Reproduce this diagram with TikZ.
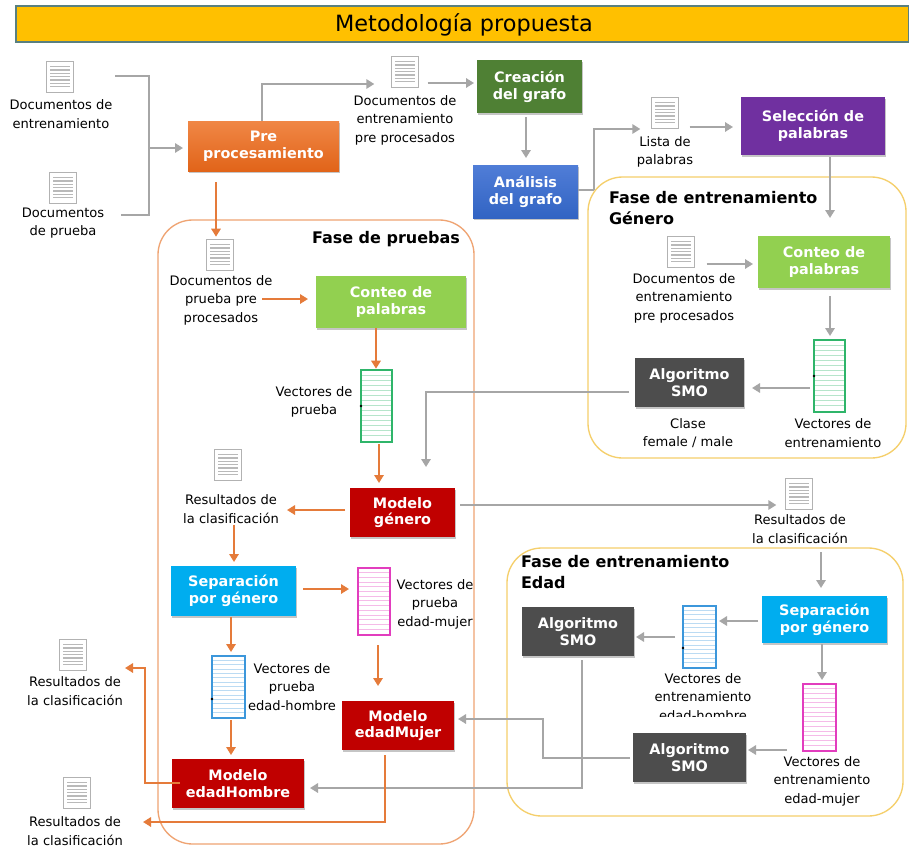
\documentclass[tikz,border=0pt]{standalone}
\usepackage{fontspec}
\setmainfont{DejaVu Sans}
\usetikzlibrary{arrows.meta,calc,shadows}
\definecolor{garrow}{HTML}{A6A6A6}
\definecolor{oarrow}{HTML}{E57B3A}
\definecolor{ttlbar}{HTML}{FFC000}
\definecolor{ybord}{HTML}{F5CF6B}
\definecolor{obord}{HTML}{EFA473}
\definecolor{smo}{HTML}{4D4D4D}
\definecolor{redm}{HTML}{C00000}
\definecolor{cyanb}{HTML}{00ADEF}
\definecolor{greenb}{HTML}{92D050}
\definecolor{darkg}{HTML}{4F8034}
\definecolor{purp}{HTML}{7030A0}
\definecolor{vgreen}{HTML}{2FB56A}
\definecolor{vblue}{HTML}{3C97DB}
\definecolor{vmag}{HTML}{E23DBE}
\definecolor{preT}{HTML}{F08746}
\definecolor{preB}{HTML}{E16419}
\definecolor{anaT}{HTML}{507DD7}
\definecolor{anaB}{HTML}{3264C3}
\tikzset{
  x=0.75pt,y=-0.75pt,
  garr/.style={draw=garrow,line width=1.6pt,-{Triangle[length=6pt,width=7pt]}},
  gline/.style={draw=garrow,line width=1.6pt},
  oarr/.style={draw=oarrow,line width=1.6pt,-{Triangle[length=6pt,width=7pt]}},
  boxbase/.style={inner sep=0pt,outer sep=0pt,align=center,text=white,
    font=\fontsize{10.8}{12.6}\selectfont\bfseries,
    drop shadow={opacity=.45,shadow xshift=1pt,shadow yshift=-1.5pt}},
  prebox/.style={boxbase,top color=preT,bottom color=preB,text=white},
  bluebox/.style={boxbase,top color=anaT,bottom color=anaB,text=white},
  dgbox/.style={boxbase,fill=darkg},
  purpbox/.style={boxbase,fill=purp},
  lgbox/.style={boxbase,fill=greenb},
  smobox/.style={boxbase,fill=smo},
  redbox/.style={boxbase,fill=redm},
  cybox/.style={boxbase,fill=cyanb},
  phase/.style={inner sep=0pt,outer sep=0pt,rounded corners=26pt,line width=1pt,fill=white},
  txt/.style={inner sep=0pt,outer sep=0pt,align=center,font=\fontsize{9.8}{13.9}\selectfont},
  ttl/.style={inner sep=0pt,outer sep=0pt,align=left,font=\fontsize{12}{16.1}\selectfont\bfseries},
  docicon/.style={draw=gray!60,line width=1.2pt,fill=white,minimum width=20.5pt,minimum height=23pt,
    inner sep=0pt,outer sep=0pt,
    path picture={
      \foreach \f in {.16,.27,.38,.49,.60,.71,.82}{
        \draw[gray!55,line width=1pt]
          ($(path picture bounding box.north west)!\f!(path picture bounding box.south west)+(2.8pt,0)$) --
          ($(path picture bounding box.north east)!\f!(path picture bounding box.south east)+(-2.8pt,0)$);}}},
  vecbase/.style={line width=1.6pt,fill=white,inner sep=0pt,outer sep=0pt,
    path picture={
      \foreach \f in {.07,.14,.21,.28,.35,.42,.49,.56,.63,.70,.77,.84,.91}{
        \draw[#1!35,line width=.6pt]
          ($(path picture bounding box.north west)!\f!(path picture bounding box.south west)$) --
          ($(path picture bounding box.north east)!\f!(path picture bounding box.south east)$);}}},
}
\newcommand\bx[7]{\node[#6,minimum width={(#4-#2)*0.75pt},minimum height={(#5-#3)*0.75pt}] (#1) at ({(#2+#4)/2},{(#3+#5)/2}) {#7};}
\newcommand\vc[6]{\node[draw=#6,vecbase=#6,minimum width={(#4-#2)*0.75pt},minimum height={(#5-#3)*0.75pt}] (#1) at ({(#2+#4)/2},{(#3+#5)/2}) {};}
\begin{document}
\begin{tikzpicture}
\useasboundingbox (0,0) rectangle (909,856);
\fill[white] (0,0) rectangle (909,856);
% title
\bx{title}{16}{6}{909}{42}{draw=gray!70!teal,fill=ttlbar,line width=1pt,inner sep=0pt,outer sep=0pt}{}
\node[inner sep=0pt,font=\fontsize{16.8}{20}\selectfont] (titletext) at (464,25) {Metodología propuesta};
% phases
\bx{fpru}{158}{220}{474}{844}{phase,draw=obord}{}
\bx{fgen}{588}{177}{906}{458}{phase,draw=ybord}{}
\bx{fedad}{507}{548}{903}{816}{phase,draw=ybord}{}
\node[ttl,anchor=center] (tpru) at (386,239) {Fase de pruebas};
\node[ttl,anchor=west] (tgen) at (609,208) {Fase de entrenamiento\\Género};
\node[ttl,anchor=west] (tedad) at (521,572) {Fase de entrenamiento\\Edad};
% documents
\node[docicon] (d1) at (60,77) {};
\node[txt] (t1) at (61,114) {Documentos de\\entrenamiento};
\node[docicon] (d2) at (63,188) {};
\node[txt] (t2) at (63,223) {Documentos\\de prueba};
\node[docicon] (d3) at (405,72) {};
\node[txt] (t3) at (405,120) {Documentos de\\entrenamiento\\pre procesados};
\node[docicon] (d4) at (665,113) {};
\node[txt] (t4) at (665,152) {Lista de\\palabras};
\node[docicon] (d5) at (681,252) {};
\node[txt] (t5) at (684,298) {Documentos de\\entrenamiento\\pre procesados};
\node[docicon] (d6) at (220,255) {};
\node[txt] (t6) at (221,300) {Documentos de\\prueba pre\\procesados};
\node[docicon] (d7) at (228,465) {};
\node[txt] (t7) at (231,509) {Resultados de\\la clasificación};
\node[docicon] (d8) at (799,494) {};
\node[txt] (t8) at (800,529) {Resultados de\\la clasificación};
\node[docicon] (d9) at (73,655) {};
\node[txt] (t9) at (75,691) {Resultados de\\la clasificación};
\node[docicon] (d10) at (77,793) {};
\node[txt] (t10) at (75,831) {Resultados de\\la clasificación};
% boxes
\bx{pre}{188}{121}{339}{171}{prebox}{Pre\\procesamiento}
\bx{crea}{477}{60}{582}{113}{dgbox}{Creación\\del grafo}
\bx{ana}{473}{165}{578}{218}{bluebox}{Análisis\\del grafo}
\bx{sel}{741}{97}{885}{155}{purpbox}{Selección de\\palabras}
\bx{cg}{758}{236}{890}{288}{lgbox}{Conteo de\\palabras}
\bx{smog}{635}{358}{744}{407}{smobox}{Algoritmo\\SMO}
\bx{cp}{316}{276}{466}{328}{lgbox}{Conteo de\\palabras}
\bx{mg}{350}{488}{455}{537}{redbox}{Modelo\\género}
\bx{sp}{171}{566}{296}{616}{cybox}{Separación\\por género}
\bx{mm}{342}{701}{454}{750}{redbox}{Modelo\\edadMujer}
\bx{mh}{172}{759}{304}{808}{redbox}{Modelo\\edadHombre}
\bx{se}{762}{596}{887}{643}{cybox}{Separación\\por género}
\bx{smoh}{522}{607}{634}{656}{smobox}{Algoritmo\\SMO}
\bx{smom}{633}{733}{746}{782}{smobox}{Algoritmo\\SMO}
% vectors
\vc{vg}{814}{340}{845}{412}{vgreen}
\vc{vp}{361}{370}{392}{442}{vgreen}
\vc{vm}{358}{568}{390}{635}{vmag}
\vc{vh}{212}{656}{245}{718}{vblue}
\vc{veh}{683}{606}{716}{668}{vblue}
\vc{vem}{803}{684}{836}{751}{vmag}
\fill[black] (vg.west) circle (1.1pt);
\fill[black] (vp.west) circle (1.1pt);
\fill[black] (vh.west |- 0,699) circle (1.1pt);
\fill[black] (veh.west |- 0,648) circle (1.1pt);
% vector labels
\node[txt] (lvg) at (833,433) {Vectores de\\entrenamiento};
\node[txt] (lcl) at (688,433) {Clase\\female / male};
\node[txt] (lvp) at (314,402) {Vectores de\\prueba};
\node[txt] (lvm) at (435,604) {Vectores de\\prueba\\edad-mujer};
\node[txt] (lvh) at (292,687) {Vectores de\\prueba\\edad-hombre};
\node[txt] (lveh) at (703,697) {Vectores de\\entrenamiento\\edad-hombre};
\fill[white] (640,717) rectangle (780,732);
\node[txt] (lvem) at (822,781) {Vectores de\\entrenamiento\\edad-mujer};
% gray connectors
\draw[gline] (115,76) coordinate (c1a) -- (149,76) coordinate (c1b) -- (149,215) coordinate (c1c) -- (121,215) coordinate (c1d);
\draw[garr,shorten >=3.75pt] (149,148) -- (pre.west |- 0,148);
\draw[garr,shorten >=12.75pt] (pre.north -| 262,0) |- (d3.west |- 0,84);
\draw[garr,shorten <=6.75pt,shorten >=2.25pt] (d3.east |- 0,83) -- (crea.west |- 0,83);
\draw[garr,shorten <=3pt,shorten >=5.25pt] (crea.south -| 526,0) -- (ana.north -| 526,0);
\draw[gline] (ana.east |- 0,190) -- (594,190) coordinate (cm1);
\draw[garr,shorten >=8.25pt] (cm1) |- (d4.west |- 0,129);
\draw[garr,shorten <=8.25pt,shorten >=6pt] (d4.east |- 0,127) -- (sel.west |- 0,127);
\draw[garr,shorten <=1.5pt,shorten >=13.5pt] (sel.south -| 830,0) -- (cg.north -| 830,0);
\draw[garr,shorten <=9pt,shorten >=3.75pt] (d5.east |- 0,264) -- (cg.west |- 0,264);
\draw[garr,shorten <=6pt,shorten >=3pt] (cg.south -| 830,0) -- (vg.north -| 830,0);
\draw[garr,shorten <=3pt,shorten >=6pt] (vg.west |- 0,388) -- (smog.east |- 0,388);
\draw[garr,shorten <=4.5pt,shorten >=15.75pt] (smog.west |- 0,392) -| (mg.north -| 426,0);
\draw[garr,shorten <=3.75pt,shorten >=6.75pt] (mg.east |- 0,505) -- (d8.west |- 0,505);
\draw[garr,shorten >=6pt] (821,552) coordinate (c8) -- (se.north -| 821,0);
\draw[garr,shorten <=3pt,shorten >=2.25pt] (se.west |- 0,621) -- (veh.east |- 0,621);
\draw[garr,shorten <=6pt,shorten >=1.5pt] (veh.west |- 0,637) -- (smoh.east |- 0,637);
\draw[garr,shorten <=.75pt,shorten >=3pt] (se.south -| 822,0) -- (vem.north -| 822,0);
\draw[garr,shorten <=12pt,shorten >=1.5pt] (vem.west |- 0,750) -- (smom.east |- 0,750);
\draw[garr,shorten <=2.25pt,shorten >=3pt] (smom.west |- 0,758) -- (543,758) coordinate (cj1) -- (543,719) coordinate (cj2) -- (mm.east |- 0,719);
\draw[garr,shorten <=3pt,shorten >=4.5pt] (smoh.south -| 582,0) |- (mh.east |- 0,788);
% orange connectors
\draw[oarr,shorten >=2.25pt] (216,182) coordinate (co1) -- (d6.north -| 216,0);
\draw[oarr,shorten >=6pt] (262,299) coordinate (co2) -- (cp.west |- 0,299);
\draw[oarr,shorten >=1pt] (cp.south -| 376,0) -- (vp.north -| 376,0);
\draw[oarr,shorten <=1.5pt,shorten >=3.75pt] (vp.south -| 379,0) -- (mg.north -| 379,0);
\draw[oarr,shorten <=3.75pt] (mg.west |- 0,510) -- (287,510) coordinate (co8);
\draw[oarr,shorten <=1pt,shorten >=3pt] (t7.south -| 234,0) -- (sp.north -| 234,0);
\draw[oarr,shorten <=5.25pt,shorten >=6.75pt] (sp.east |- 0,589) -- (vm.west |- 0,589);
\draw[oarr,shorten <=7.5pt,shorten >=11.25pt] (vm.south -| 378,0) -- (mm.north -| 378,0);
\draw[oarr,shorten <=.75pt,shorten >=3pt] (sp.south -| 231,0) -- (vh.north -| 231,0);
\draw[oarr,shorten <=1.5pt,shorten >=3pt] (vh.south -| 231,0) -- (mh.north -| 231,0);
\draw[oarr,shorten <=-6pt] (mh.west |- 0,783) -- (145,783) coordinate (co3) -- (145,668) coordinate (co4) -- (125,668) coordinate (co5);
\draw[oarr,shorten <=3.75pt] (mm.south -| 385,0) -- (385,822) coordinate (co6) -- (143,822) coordinate (co7);
\end{tikzpicture}
\end{document}
